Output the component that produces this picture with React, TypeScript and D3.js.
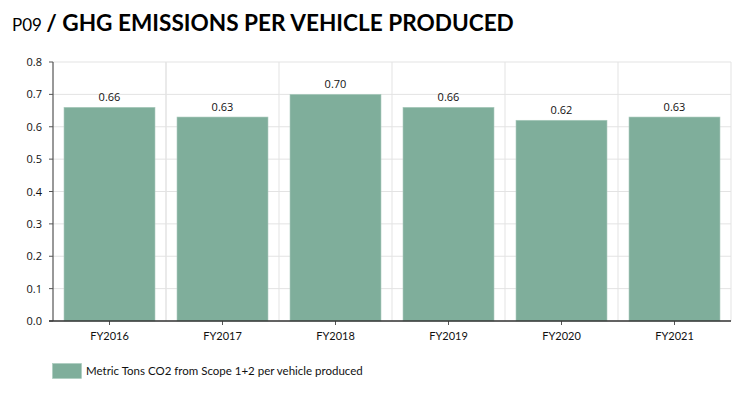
import React from "react";
import * as d3 from "d3";

const categories = ["FY2016", "FY2017", "FY2018", "FY2019", "FY2020", "FY2021"];
const values = [0.66, 0.63, 0.7, 0.66, 0.62, 0.63];
const yTicks = [0, 0.1, 0.2, 0.3, 0.4, 0.5, 0.6, 0.7, 0.8];
const seriesName = "Metric Tons CO2 from Scope 1+2 per vehicle produced";

const W = 753;
const H = 397;
const left = 53;
const right = 731;
const top = 62;
const bottom = 321;
const barColor = "#7fae9b";
const font = "Lato, 'Open Sans', sans-serif";

export default function App() {
  const x = d3.scaleBand<string>().domain(categories).range([left, right]).paddingInner(0.195).paddingOuter(0.0975);
  const xb = d3.scaleBand<string>().domain(categories).range([left, right]);
  const y = d3.scaleLinear().domain([0, 0.8]).range([bottom, top]);
  return (
    <svg width={W} height={H} style={{ position: "absolute", left: 0, top: 0, background: "#fff" }}>
      <text x={12} y={31} fontFamily={font} fill="#000">
        <tspan fontSize={17}>P09 </tspan>
        <tspan fontSize={22.6} fontWeight={700}>/ GHG EMISSIONS PER VEHICLE PRODUCED</tspan>
      </text>
      {yTicks.map((t) => (
        <line key={"g" + t} x1={left} x2={right} y1={y(t)} y2={y(t)} stroke="#e3e3e3" strokeWidth={1} />
      ))}
      {categories.map((c, i) => (
        <line key={"v" + c} x1={xb(c)! + (i === 0 ? xb.bandwidth() : 0)} x2={xb(c)! + (i === 0 ? xb.bandwidth() : 0)} y1={top} y2={bottom} stroke="#e3e3e3" />
      ))}
      <line x1={right} x2={right} y1={top} y2={bottom} stroke="#e3e3e3" />
      {categories.map((c, i) => (
        <g key={c}>
          <rect x={x(c)} y={y(values[i])} width={x.bandwidth()} height={bottom - y(values[i])} fill={barColor} stroke="#a9cabc" strokeWidth={0.6} />
          <text x={x(c)! + x.bandwidth() / 2} y={y(values[i]) - 6} textAnchor="middle" fontSize={11} fontFamily="'Open Sans', sans-serif" fill="#111">
            {values[i].toFixed(2)}
          </text>
          <line x1={xb(c)! + xb.bandwidth() / 2} x2={xb(c)! + xb.bandwidth() / 2} y1={bottom} y2={bottom + 4} stroke="#555" />
          <text x={xb(c)! + xb.bandwidth() / 2} y={bottom + 19} textAnchor="middle" fontSize={11} fontFamily={font} fill="#111">
            {c}
          </text>
        </g>
      ))}
      <line x1={left} x2={left} y1={top} y2={bottom} stroke="#333" />
      {yTicks.map((t) => (
        <g key={"t" + t}>
          <line x1={left - 4} x2={left} y1={y(t)} y2={y(t)} stroke="#555" />
          <text x={left - 11} y={y(t) + 4} textAnchor="end" fontSize={11} fontFamily="'Open Sans', sans-serif" fill="#111">
            {t.toFixed(1)}
          </text>
        </g>
      ))}
      <line x1={left - 4} x2={right} y1={bottom} y2={bottom} stroke="#333" strokeWidth={1.5} />
      <rect x={52.5} y={363.5} width={29} height={15} fill={barColor} stroke="#a9cabc" strokeWidth={0.6} />
      <text x={86} y={375} fontSize={11.5} fontFamily={font} fill="#111">{seriesName}</text>
    </svg>
  );
}
